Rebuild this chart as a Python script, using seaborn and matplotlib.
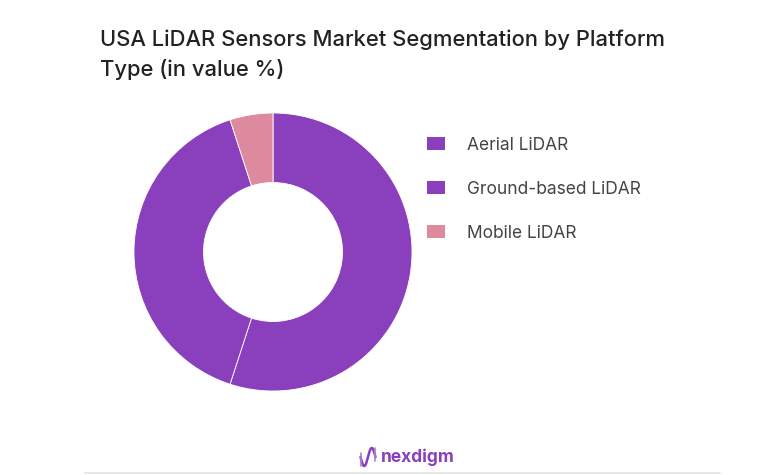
import numpy as np
import matplotlib
matplotlib.use("Agg")
import matplotlib.pyplot as plt
import seaborn as sns
from matplotlib.patches import Patch
from matplotlib.lines import Line2D

# data
segments = ["Aerial LiDAR", "Ground-based LiDAR", "Mobile LiDAR"]
shares = [55, 40, 5]
colors = ["#8A3FBC", "#8A3FBC", "#DE8A9E"]

sns.set_theme(style="white")
plt.rcParams["font.family"] = ["Inter", "DejaVu Sans"]

W, H = 765, 475
fig = plt.figure(figsize=(W / 100, H / 100), dpi=100)
fig.patch.set_facecolor("white")

# title
fig.text(100 / W, 1 - 40 / H, "USA LiDAR Sensors Market Segmentation by Platform",
         fontsize=15.8, color="#222222", va="center", ha="left", fontweight="medium")
fig.text(100 / W, 1 - 69 / H, "Type (in value %)",
         fontsize=15.8, color="#222222", va="center", ha="left", fontweight="medium")

# donut
cx, cy, r = 273, 252, 139
ax = fig.add_axes([(cx - r) / W, (H - cy - r) / H, 2 * r / W, 2 * r / H])
wedges, _ = ax.pie(shares, colors=colors, startangle=90, counterclock=False,
                   radius=1.0, wedgeprops=dict(width=0.5, edgecolor="white", linewidth=0.6))
ax.set_xlim(-1.0, 1.0)
ax.set_ylim(-1.0, 1.0)
ax.set_aspect("equal")
ax.axis("off")

# legend
handles = [Patch(facecolor=c, edgecolor="none") for c in colors]
leg = fig.legend(handles, segments, loc="upper left",
                 bbox_to_anchor=(413 / W, 1 - 123 / H), frameon=False,
                 fontsize=12.5, handlelength=1.05, handleheight=0.8,
                 handletextpad=1.25, labelspacing=1.55, borderpad=0.3)
for t in leg.get_texts():
    t.set_color("#444444")

# footer logo and rule
fig.add_artist(Line2D([85 / W, 720 / W], [1 - 473 / H, 1 - 473 / H],
                      color="#E3E3E3", linewidth=1.2))
lx = fig.add_axes([359 / W, 1 - 468 / H, 18 / W, 22 / H])
t = np.linspace(0, 1, 100)
lx.plot(t, 0.5 + 0.45 * np.sin(t * 2 * np.pi + np.pi), color="#8A3FBC", linewidth=1.8)
lx.plot([0.02, 0.02], [0.05, 0.7], color="#B07BD6", linewidth=1.2)
lx.plot([0.98, 0.98], [0.3, 0.95], color="#B07BD6", linewidth=1.2)
lx.set_xlim(-0.1, 1.1)
lx.set_ylim(-0.05, 1.05)
lx.axis("off")
fig.text(381 / W, 1 - 457 / H, "nexdigm", fontsize=12.5, color="#8A3FBC",
         fontweight="bold", va="center", ha="left")

fig.savefig("out.png", dpi=100, facecolor="white")
